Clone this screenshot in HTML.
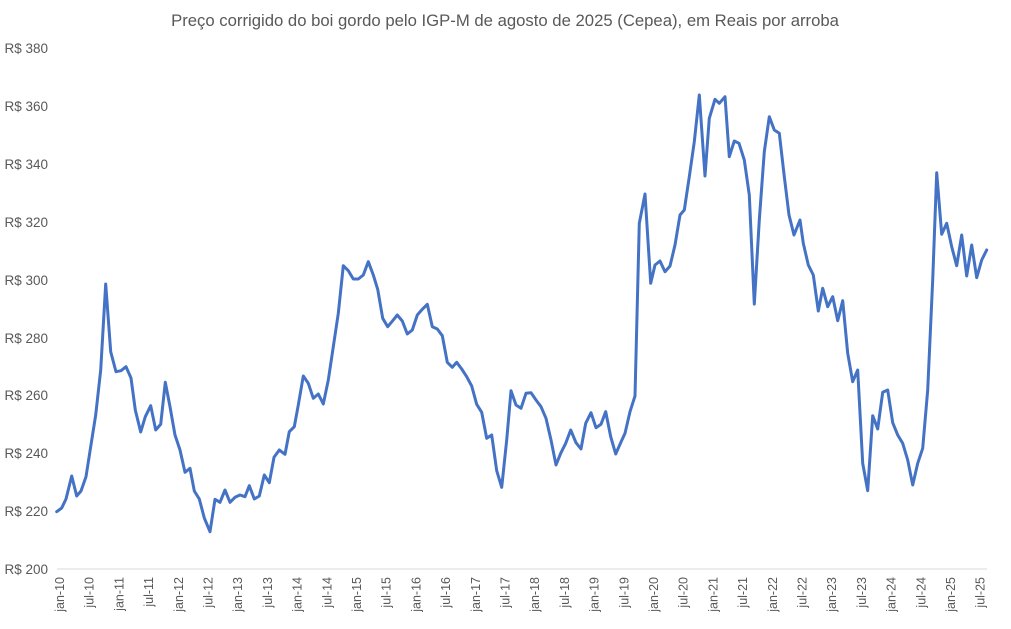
<!DOCTYPE html>
<html><head><meta charset="utf-8"><style>
html,body{margin:0;padding:0;background:#fff;}
svg{display:block;font-family:"Liberation Sans",sans-serif;}
</style></head><body>
<svg width="1011" height="629" viewBox="0 0 1011 629">
<rect width="1011" height="629" fill="#fff"/>
<text x="505" y="26" text-anchor="middle" font-size="16.7" fill="#595959">Preço corrigido do boi gordo pelo IGP-M de agosto de 2025 (Cepea), em Reais por arroba</text>
<g font-size="13.5" fill="#595959" text-anchor="end">
<text x="48" y="53">R$ 380</text>
<text x="48" y="111">R$ 360</text>
<text x="48" y="169">R$ 340</text>
<text x="48" y="227">R$ 320</text>
<text x="48" y="285">R$ 300</text>
<text x="48" y="343">R$ 280</text>
<text x="48" y="400">R$ 260</text>
<text x="48" y="458">R$ 240</text>
<text x="48" y="516">R$ 220</text>
<text x="48" y="574">R$ 200</text>
</g>
<line x1="57" y1="569" x2="987" y2="569" stroke="#d9d9d9" stroke-width="1"/>
<g font-size="12.5" fill="#595959" text-anchor="end" id="xl"></g>
<polyline fill="none" stroke="#4472C4" stroke-width="3" stroke-linejoin="round" stroke-linecap="round" points="
56.7,511.7 61.7,508 66,499 71.7,476 76.7,496 81,491 86,476.7 90.7,446.7 95.7,415 100.7,370 105.7,284 110.7,351.7 116,371.7 121,370.7 126,366.7 131,378 135.3,410 140.7,432 145.3,416.7 150.7,405.7 155.7,430 160.7,424.3 165.3,382.3 170,406.7 175,435 180,450 185,472.3 190,468.3 194.3,491 199.3,499 204.3,518 210,531.7 215,499.3 220,502.3 225,490 230,502.3 235,497.3 240,495 245,496.7 249.3,485.7 254.3,499 259.3,496 264.3,475 269.3,482.7 274,457.3 279.3,450 285,454.3 289.3,431.7 294.3,426.7 298.3,405 303.3,376 308.3,383.3 313.3,398.3 318.3,394 323.3,404 328.3,380 333.3,346.7 338.3,313.3 343.3,265.7 348.3,270.7 353.3,279 358.3,279 363.3,275 368.3,261.7 373.3,275 377.7,289.3 382.7,318.3 387.7,326.7 392.7,320.7 397.3,315 402.3,321 407.3,334 412.3,330 417.3,315 422.3,309.3 427.3,304.3 432.3,326.7 437.3,329 442.3,335.7 447.3,362.3 452.3,367.3 456.7,362.3 461.7,369 466.7,376.7 471.7,386 476.7,404.3 481.7,412.3 486.7,438.3 491.7,435 496.7,470.7 501.7,487.3 506.7,440 511,390.7 516,405 521,408.3 526,393.3 531,392.7 536,400 541,406.7 546,418.3 551,440 556,465 560.7,453.3 565.7,443.3 570.7,430 576,442.7 581,449 585.7,423.3 591,412.7 596,427.7 601,424.3 605.7,411.7 610.7,436.7 615.7,454 620.7,442.7 625,433.3 630,411.7 635,396 639.3,223.3 645,194 650.7,283.3 655,265 660,261 665,271.7 670,266 675,245 680,215 684.3,210 689.3,176.7 694.3,141.7 699.3,95 705,176 709.3,118.3 715,99.3 719.3,103.3 725,96.7 729.3,156.7 734.3,141 739,143.3 744.3,160 749.3,195 754.3,304 759.3,220 764.3,151.7 769.3,116.7 774.3,130 779.3,133.3 784.3,176.7 789,215 794,235 800,220 803.3,243.3 808.3,265 813.3,275 818.3,311 822.7,288.3 827.7,306.7 832.7,296.7 837.7,320.7 842.7,300.7 847.7,353.3 852.7,381.7 857.7,370 862.7,463.3 867.7,490.7 872.7,415.7 877.7,429 882.7,392.3 887.7,390 892.7,422.7 897.7,435 902.7,443.3 907.7,460 912.7,485 917.7,463.3 922.7,448.3 927.7,390 932.7,280 936.7,172.7 941.7,234.3 946.7,223.3 951.7,246.7 956.7,265.7 961.7,235 966.7,276 971.7,245 976.7,277.7 981.7,260 986.7,250"/>
</svg>
<script>
var g=document.getElementById('xl');var s='';
for(var i=0;i<32;i++){var yr=10+Math.floor(i/2);var lab=(i%2?'jul-':'jan-')+yr;
var x=57+4.95*(i*6+0.5)+4.5;
s+='<text transform="translate('+x.toFixed(1)+',577) rotate(-90)">'+lab+'</text>';}
g.innerHTML=s;
</script>
</body></html>
